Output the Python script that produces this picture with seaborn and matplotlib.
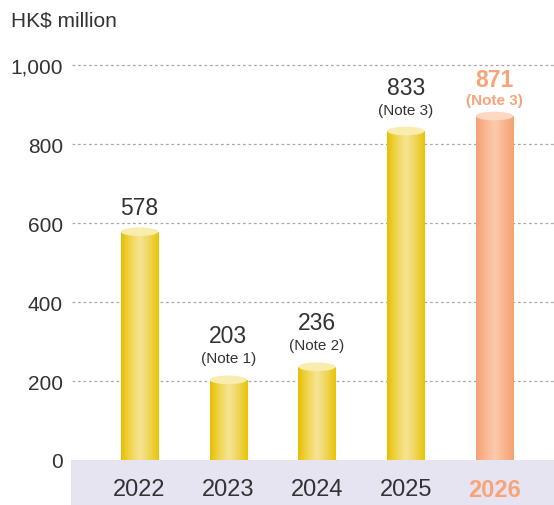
import numpy as np
import matplotlib
matplotlib.use("Agg")
import matplotlib.pyplot as plt
from matplotlib.patches import Ellipse, Rectangle
from matplotlib.colors import LinearSegmentedColormap
import seaborn as sns
import pandas as pd

# ---- data ----
years = ["2022", "2023", "2024", "2025", "2026"]
values = [578, 203, 236, 833, 871]
notes = ["", "(Note 1)", "(Note 2)", "(Note 3)", "(Note 3)"]
highlight = [False, False, False, False, True]
unit_label = "HK$ million"
yticks = [0, 200, 400, 600, 800, 1000]
ytick_labels = ["0", "200", "400", "600", "800", "1,000"]

# ---- style ----
sns.set_theme(style="white")
plt.rcParams["font.family"] = ["Liberation Sans", "DejaVu Sans"]

TEXT = "#333333"
ORANGE = "#f7a47a"
gold_stops = ["#e6bf00", "#f0d650", "#f6e496", "#efd55a", "#e8c400"]
orange_stops = ["#f5a072", "#f9b892", "#fccbad", "#f9b58c", "#f5a274"]
gold_top = "#f8ecae"
orange_top = "#fdd8c2"

W, H = 554, 506
fig = plt.figure(figsize=(W / 100, H / 100), dpi=100)
ax_left, ax_right = 72, 554
ax_bottom_px, ax_top_px = 461, 40
ax = fig.add_axes([ax_left / W, (H - ax_bottom_px) / H,
                   (ax_right - ax_left) / W, (ax_bottom_px - ax_top_px) / H])

df = pd.DataFrame({"year": years, "value": values})
bar_colors = [ORANGE if h else "#e8c400" for h in highlight]
sns.barplot(data=df, x="year", y="value", hue="year", palette=bar_colors,
            width=0.42, legend=False, ax=ax, saturation=1, zorder=3)

ax.set_xlim(-0.76, 4.67)
ax.set_ylim(0, 1066)

# cylinder effect
ell_h = 22
for patch, h in zip(ax.patches, highlight):
    x0 = patch.get_x()
    w = patch.get_width()
    top = patch.get_height()
    stops = orange_stops if h else gold_stops
    cmap = LinearSegmentedColormap.from_list("g", stops)
    grad = np.linspace(0, 1, 256).reshape(1, -1)
    im = ax.imshow(grad, cmap=cmap, aspect="auto",
                   extent=[x0, x0 + w, 0, top], zorder=3, interpolation="bicubic")
    im.set_clip_path(patch)
    patch.set_facecolor("none")
    patch.set_edgecolor("none")
    ax.add_patch(Ellipse((x0 + w / 2, top), w, ell_h,
                         facecolor=orange_top if h else gold_top,
                         edgecolor="none", zorder=4))

# value labels
for i, (v, n, h) in enumerate(zip(values, notes, highlight)):
    col = ORANGE if h else TEXT
    wt = "bold" if h else "normal"
    if n:
        note_off = 8.6 if h else 12.6
        num_off = note_off + (13.0 if h else 14.4)
        ax.annotate(n, (i, v), xytext=(0, note_off), textcoords="offset points",
                    ha="center", va="baseline", fontsize=11, color=col,
                    fontweight=wt, zorder=5)
    else:
        num_off = 12.7
    ax.annotate(f"{v:,}", (i, v), xytext=(0, num_off), textcoords="offset points",
                ha="center", va="baseline", fontsize=16.5, color=col,
                fontweight=wt, zorder=5)

# axes styling
for s in ax.spines.values():
    s.set_visible(False)
ax.set_yticks(yticks)
ax.set_yticklabels(ytick_labels)
ax.tick_params(axis="y", length=0, pad=6.5, labelsize=15, labelcolor=TEXT)
ax.tick_params(axis="x", length=0, pad=13, labelsize=17, labelcolor=TEXT)
ax.set_xlabel("")
ax.set_ylabel("")
ax.yaxis.grid(True, linestyle=(0, (2.2, 2.2)), color="#a8a8a8", linewidth=0.9, zorder=0)
ax.set_axisbelow(True)
ax.get_ygridlines()[0].set_visible(False)
for lbl, h in zip(ax.get_xticklabels(), highlight):
    if h:
        lbl.set_color(ORANGE)
        lbl.set_fontweight("bold")

# category band
band_h = (506 - ax_bottom_px) / (ax_bottom_px - ax_top_px)
ax.add_patch(Rectangle((-0.002, -band_h), 1.01, band_h, transform=ax.transAxes,
                       facecolor="#e6e4f1", edgecolor="none", clip_on=False, zorder=0.5))

fig.text(11 / W, 1 - 27 / H, unit_label, fontsize=15, color=TEXT,
         ha="left", va="baseline")

fig.savefig("out.png", dpi=100, facecolor="white")
